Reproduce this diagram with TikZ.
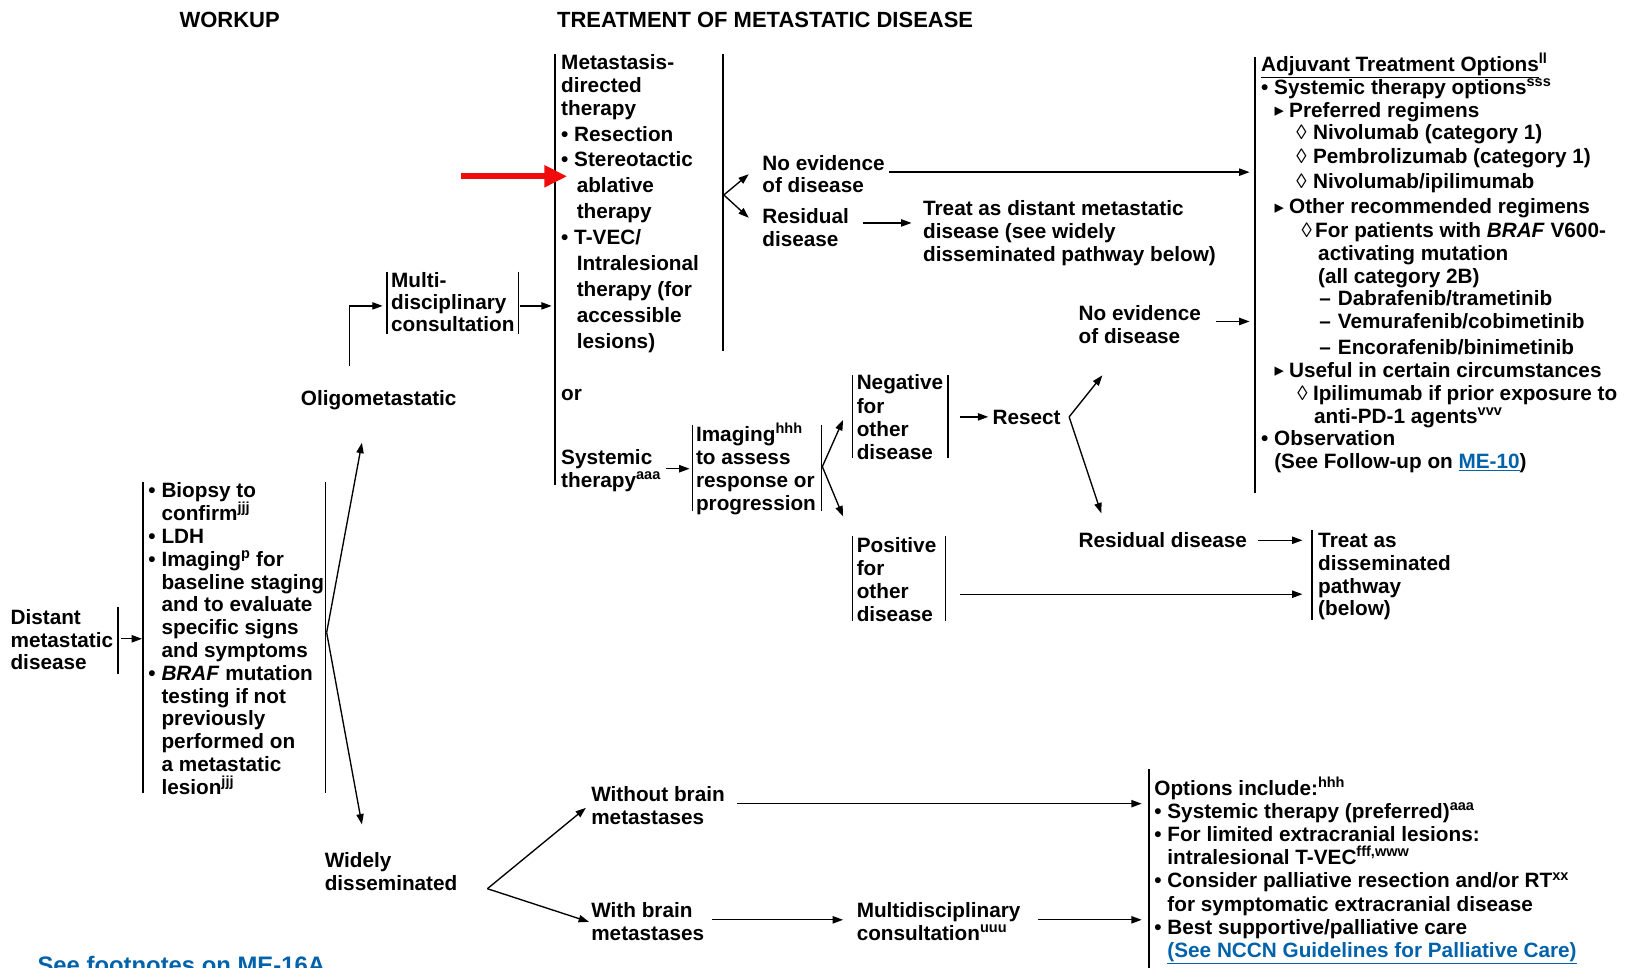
\documentclass[tikz,border=0pt]{standalone}
\usepackage{fontspec}
\setmainfont{Liberation Sans}
\newfontfamily\symfont{DejaVu Sans}
\usetikzlibrary{arrows.meta}
\definecolor{linkblue}{RGB}{0,98,170}
\definecolor{arrowred}{RGB}{240,12,12}
\newcommand\ind{\hspace*{12.6pt}}
\newcommand\tri{{\symfont\mdseries\fontsize{18}{18}\selectfont ▸}}
\newcommand\loz{{\mdseries ◊}}
\newcommand\Vt[1]{\vtop{\lineskiplimit=-30pt\lineskip=0pt #1}}
\newcommand\Lb[1]{\hbox{#1}}
\newcommand\Lx[1]{\vskip3pt\hbox{#1}}
\newcommand\Lg[2]{\vskip#1pt\hbox{#2}}
\begin{document}
\begin{tikzpicture}[x=1pt,y=-1pt,
  txt/.style={inner sep=0pt, anchor=base west, font=\fontsize{20}{22}\selectfont\bfseries},
  head/.style={txt, font=\fontsize{21.2}{24}\selectfont\bfseries},
  bar/.style={line width=1.4pt},
  arr/.style={line width=1.3pt, -{Triangle[length=10pt,width=7pt]}},
  ln/.style={line width=1.3pt}]
\useasboundingbox (0,0) rectangle (1568,933);

% headers
\node[head] (hWork) at (173,27) {WORKUP};
\node[head] (hTreat) at (537,27) {TREATMENT OF METASTATIC DISEASE};

% workup
\node[txt] (distant) at (10,602) {\Vt{\Lb{Distant}\Lb{metastatic}\Lb{disease}}};
\draw[bar] (114,585) -- (114,650);
\node[txt] (workup) at (143,480) {\Vt{\Lb{• Biopsy to}
\Lb{\ind confirm\textsuperscript{jjj}}
\Lb{• LDH}
\Lb{• Imaging\textsuperscript{p} for}
\Lb{\ind baseline staging}
\Lb{\ind and to evaluate}
\Lb{\ind specific signs}
\Lb{\ind and symptoms}
\Lb{• \textit{BRAF} mutation}
\Lb{\ind testing if not}
\Lb{\ind previously}
\Lb{\ind performed on}
\Lb{\ind a metastatic}
\Lb{\ind lesion\textsuperscript{jjj}}}};
\draw[bar] (138,465) -- (138,765);
\draw[bar] (314,465) -- (314,765);

\node[txt] (oligo) at (290,391) {Oligometastatic};
\node[txt] (widely) at (313,837) {\Vt{\Lb{Widely}\Lb{disseminated}}};

% multidisciplinary
\node[txt, font=\fontsize{20}{21.5}\selectfont\bfseries] (multi) at (377,277) {\Vt{\Lb{Multi-}\Lb{disciplinary}\Lb{consultation}}};
\draw[bar] (373,262) -- (373,322);
\draw[bar] (500,262) -- (500,322);

% metastasis-directed therapy
\draw[bar] (535,52) -- (535,468);
\draw[bar] (697,52) -- (697,338);
\node[txt] (mdt) at (541,67) {\Vt{\Lb{Metastasis-}\Lb{directed}\Lb{therapy}
\Lx{• Resection}
\Lx{• Stereotactic}
\Lx{\hspace*{15pt}ablative}
\Lx{\hspace*{15pt}therapy}
\Lx{• T-VEC/}
\Lx{\hspace*{15pt}Intralesional}
\Lx{\hspace*{15pt}therapy (for}
\Lx{\hspace*{15pt}accessible}
\Lx{\hspace*{15pt}lesions)}}};
\node[txt] (orTxt) at (541,386) {or};
\node[txt] (sysTher) at (541,448) {\Vt{\Lb{Systemic}\Lb{therapy\textsuperscript{aaa}}}};

\node[txt] (ned1) at (735,164) {\Vt{\Lb{No evidence}\Lb{of disease}}};
\node[txt] (res1) at (735,216) {\Vt{\Lb{Residual}\Lb{disease}}};
\node[txt] (treatDist) at (890,208) {\Vt{\Lb{Treat as distant metastatic}\Lb{disease (see widely}\Lb{disseminated pathway below)}}};

% adjuvant
\draw[bar] (1210,55) -- (1210,475);
\node[txt] (adj) at (1216,69) {\Vt{\Lb{\underline{Adjuvant Treatment Options}\textsuperscript{ll}}
\Lb{• Systemic therapy options\textsuperscript{sss}}
\Lb{\hspace*{13pt}\rlap{\raisebox{0.5pt}{\tri}}\hspace*{14pt}Preferred regimens}
\Lb{\hspace*{34pt}\rlap{\loz}\hspace*{16pt}Nivolumab (category 1)}
\Lg{1}{\hspace*{34pt}\rlap{\loz}\hspace*{16pt}Pembrolizumab (category 1)}
\Lg{2}{\hspace*{34pt}\rlap{\loz}\hspace*{16pt}Nivolumab/ipilimumab}
\Lg{2}{\hspace*{13pt}\rlap{\raisebox{0.5pt}{\tri}}\hspace*{14pt}Other recommended regimens}
\Lg{1}{\hspace*{39pt}\rlap{\loz}\hspace*{13pt}For patients with \textit{BRAF} V600-}
\Lb{\hspace*{55pt}activating mutation}
\Lb{\hspace*{55pt}(all category 2B)}
\Lb{\hspace*{56pt}\rlap{–}\hspace*{18pt}Dabrafenib/trametinib}
\Lb{\hspace*{56pt}\rlap{–}\hspace*{18pt}Vemurafenib/cobimetinib}
\Lg{3}{\hspace*{56pt}\rlap{–}\hspace*{18pt}Encorafenib/binimetinib}
\Lb{\hspace*{13pt}\rlap{\raisebox{0.5pt}{\tri}}\hspace*{14pt}Useful in certain circumstances}
\Lb{\hspace*{35pt}\rlap{\loz}\hspace*{15pt}Ipilimumab if prior exposure to}
\Lb{\hspace*{51pt}anti-PD-1 agents\textsuperscript{vvv}}
\Lb{• Observation}
\Lb{\ind (See Follow-up on {\color{linkblue}\underline{ME-10}})}}};

% imaging branch
\node[txt] (imaging) at (671,426) {\Vt{\Lb{Imaging\textsuperscript{hhh}}\Lb{to assess}\Lb{response or}\Lb{progression}}};
\draw[bar] (668,410) -- (668,493);
\draw[bar] (792,410) -- (792,493);
\node[txt, font=\fontsize{20}{22.3}\selectfont\bfseries] (neg) at (826,376) {\Vt{\Lb{Negative}\Lb{for}\Lb{other}\Lb{disease}}};
\draw[bar] (822,362) -- (822,442);
\draw[bar] (914,362) -- (914,442);
\node[txt] (pos) at (826,533) {\Vt{\Lb{Positive}\Lb{for}\Lb{other}\Lb{disease}}};
\draw[bar] (822,517) -- (822,599);
\draw[bar] (912,517) -- (912,599);
\node[txt] (resect) at (957,409) {Resect};
\node[txt] (ned2) at (1040,309) {\Vt{\Lb{No evidence}\Lb{of disease}}};
\node[txt] (res2) at (1040,528) {Residual disease};
\node[txt] (treatDiss) at (1271,528) {\Vt{\Lb{Treat as}\Lb{disseminated}\Lb{pathway}\Lb{(below)}}};
\draw[bar] (1265,511) -- (1265,598);

% widely disseminated branch
\node[txt] (without) at (570,773) {\Vt{\Lb{Without brain}\Lb{metastases}}};
\node[txt] (withB) at (570,885) {\Vt{\Lb{With brain}\Lb{metastases}}};
\node[txt] (multi2) at (826,885) {\Vt{\Lb{Multidisciplinary}\Lb{consultation\textsuperscript{uuu}}}};
\draw[bar] (1108,742) -- (1108,940);
\node[txt, font=\fontsize{20}{22.3}\selectfont\bfseries] (options) at (1113,767) {\Vt{\Lb{Options include:\textsuperscript{hhh}}
\Lb{• Systemic therapy (preferred)\textsuperscript{aaa}}
\Lb{• For limited extracranial lesions:}
\Lb{\ind intralesional T-VEC\textsuperscript{fff,www}}
\Lb{• Consider palliative resection and/or RT\textsuperscript{xx}}
\Lb{\ind for symptomatic extracranial disease}
\Lb{• Best supportive/palliative care}
\Lb{\ind {\color{linkblue}\underline{(See NCCN Guidelines for Palliative Care)}}}}};

\node[txt, text=linkblue, font=\fontsize{23}{26}\selectfont\bfseries] (foot) at (36,939) {See footnotes on ME-16A};

% connector coordinates
\coordinate (dA) at (117,616); \coordinate (dB) at (137,616);
\coordinate (wS) at (315,610); \coordinate (wO) at (349,427); \coordinate (wW) at (349,795);
\coordinate (oS) at (337,353); \coordinate (oC) at (337,295); \coordinate (oE) at (369,295);
\coordinate (mS) at (501,295); \coordinate (mE) at (532,295);
\coordinate (sS) at (642,452); \coordinate (sE) at (665,452);
\coordinate (iS) at (793,450); \coordinate (iN) at (813,405); \coordinate (iP) at (813,498);
\coordinate (nS) at (926,402); \coordinate (nE) at (953,402);
\coordinate (rS) at (1031,402); \coordinate (rN) at (1063,362); \coordinate (rR) at (1062,495);
\coordinate (n2S) at (1173,310); \coordinate (n2E) at (1205,310);
\coordinate (r2S) at (1213,521); \coordinate (r2E) at (1256,521);
\coordinate (pS) at (926,573); \coordinate (pE) at (1256,573);
\coordinate (tS) at (698,188); \coordinate (tN) at (722,168); \coordinate (tR) at (722,210);
\coordinate (n1S) at (857,166); \coordinate (n1E) at (1205,166);
\coordinate (r1S) at (832,215); \coordinate (r1E) at (879,215);
\coordinate (wdS) at (470,857); \coordinate (wdN) at (565,779); \coordinate (wdB) at (568,889);
\coordinate (woS) at (711,775); \coordinate (woE) at (1101,775);
\coordinate (wbS) at (687,887); \coordinate (wbE) at (813,887);
\coordinate (mcS) at (1001,887); \coordinate (mcE) at (1101,887);
\coordinate (redS) at (445,170); \coordinate (redE) at (547,170);

% connectors
\draw[arr] (dA) -- (dB);
\draw[arr] (wS) -- (wO);
\draw[arr] (wS) -- (wW);
\draw[arr] (oS) -- (oC) -- (oE);
\draw[arr] (mS) -- (mE);
\draw[arr] (sS) -- (sE);
\draw[arr] (iS) -- (iN);
\draw[arr] (iS) -- (iP);
\draw[arr] (nS) -- (nE);
\draw[arr] (rS) -- (rN);
\draw[arr] (rS) -- (rR);
\draw[arr] (n2S) -- (n2E);
\draw[arr] (r2S) -- (r2E);
\draw[arr] (pS) -- (pE);
\draw[arr] (tS) -- (tN);
\draw[arr] (tS) -- (tR);
\draw[arr] (n1S) -- (n1E);
\draw[arr] (r1S) -- (r1E);
\draw[arr] (wdS) -- (wdN);
\draw[arr] (wdS) -- (wdB);
\draw[arr] (woS) -- (woE);
\draw[arr] (wbS) -- (wbE);
\draw[arr] (mcS) -- (mcE);
\draw[line width=6pt, arrowred, -{Triangle[length=22pt,width=20pt]}] (redS) -- (redE);
\end{tikzpicture}
\end{document}
